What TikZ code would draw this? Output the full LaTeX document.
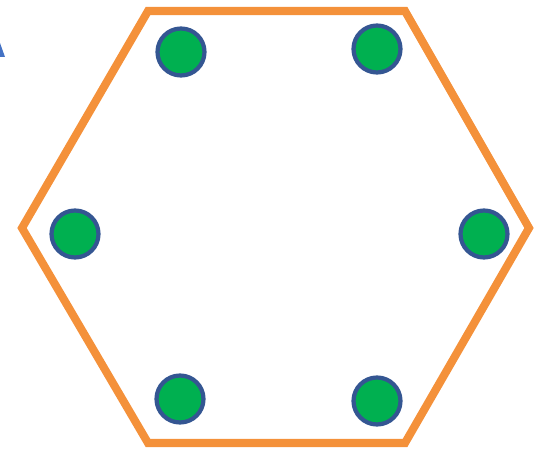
\documentclass[tikz,border=0pt]{standalone}
\usepackage{xcolor}
\usepackage{tikz}
\usetikzlibrary{positioning}

\definecolor{hexorange}{RGB}{244,145,58}
\definecolor{dotgreen}{RGB}{0,176,80}
\definecolor{dotblue}{RGB}{52,86,146}
\definecolor{tipblue}{RGB}{68,114,196}

\begin{document}
\begin{tikzpicture}[
    x=0.02cm, y=-0.02cm,
    hexline/.style={draw=hexorange, line width=4.6pt, line join=miter},
    site/.style={circle, draw=dotblue, fill=dotgreen, line width=2.4pt,
                 minimum size=0.94cm, inner sep=0pt},
]
  \useasboundingbox (0,0) rectangle (545,459);

  % hexagon corners
  \coordinate (tl) at (148,11);
  \coordinate (tr) at (405,11);
  \coordinate (r)  at (529,228);
  \coordinate (br) at (405,443);
  \coordinate (bl) at (148,443);
  \coordinate (l)  at (22,228);
  \draw[hexline] (tl) -- (tr) -- (r) -- (br) -- (bl) -- (l) -- cycle;

  % sites
  \node[site] (s1) at (181,52)  {};
  \node[site] (s2) at (377,49)  {};
  \node[site] (s3) at (75,234)  {};
  \node[site] (s4) at (484,234) {};
  \node[site] (s5) at (180,399) {};
  \node[site] (s6) at (377,401) {};

  % clipped tip at the left edge
  \fill[tipblue] (0,43) -- (5,57) -- (0,57) -- cycle;
\end{tikzpicture}
\end{document}
